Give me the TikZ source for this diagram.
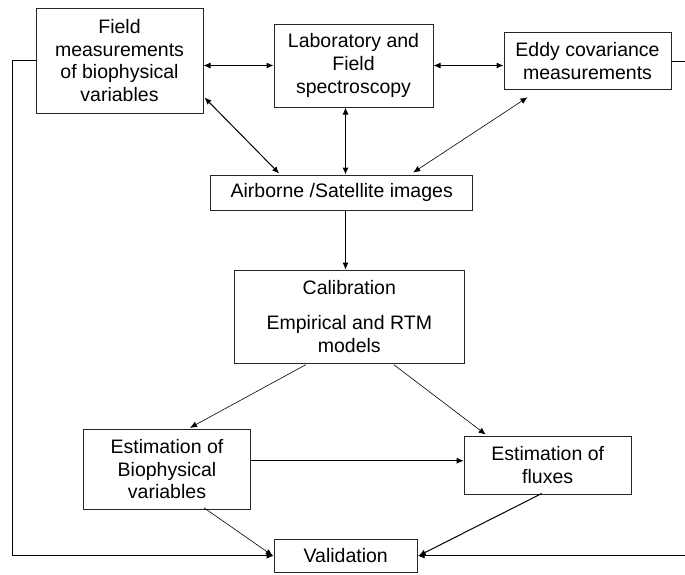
\documentclass[tikz,border=0pt]{standalone}
\usepackage{fontspec}
\setmainfont{Liberation Sans}
\usetikzlibrary{arrows.meta,calc}

\begin{document}
\begin{tikzpicture}[x=1pt,y=-1pt]
        \tikzstyle{every node}=[font=\fontsize{19.5pt}{22.7pt}\selectfont]
        \tikzstyle{box}=[draw=black!85, line width=1pt, align=center, inner sep=0pt]
        \tikzstyle{link}=[line width=1pt, -{Latex[length=7pt,width=6pt]}]
        \tikzstyle{both}=[line width=1pt, {Latex[length=7pt,width=6pt]}-{Latex[length=7pt,width=6pt]}]
        \tikzstyle{thin}=[line width=0.6pt]

        \clip (0,0) rectangle (685,574);

        \node (field)  [box, minimum width=167pt, minimum height=105pt] at (119.5,60.5) {Field\\measurements\\of biophysical\\variables};
        \node (lab)    [box, minimum width=159pt, minimum height=83pt]  at (353.5,65.5) {Laboratory and\\Field\\spectroscopy};
        \node (eddy)   [box, minimum width=167pt, minimum height=57pt]  at (587.5,61.3) {Eddy covariance\\measurements};
        \node (images) [box, minimum width=262pt, minimum height=35pt]  at (341.7,192.5) {Airborne /Satellite images};
        \node (calib)  [box, minimum width=230pt, minimum height=93pt]  at (349.3,316.7) {Calibration\\[12pt]Empirical and RTM\\models};
        \node (estbio) [box, minimum width=167pt, minimum height=80pt]  at (167,469.3) {Estimation of\\Biophysical\\variables};
        \node (estflx) [box, minimum width=167pt, minimum height=58pt]  at (547.7,465) {Estimation of\\fluxes};
        \node (valid)  [box, minimum width=143pt, minimum height=33pt]  at (345.7,555.7) {Validation};

        \coordinate (leftx)  at (12,0);
        \coordinate (rightx) at (700,0);
        \coordinate (midx)   at (345.5,0);

        \draw[both] (field.east |- lab.west) -- (lab.west);
        \draw[both] (lab.east) -- (lab.east -| eddy.west);
        \draw[both] ($(field.south east)+(1,-16)$) -- ($(images.north west)+(69,-1)$);
        \draw[both] (lab.south -| midx) -- (images.north -| midx);
        \draw[both, thin] ($(images.north east)+(-60,-2)$) -- ($(eddy.south west)+(24,7)$);

        \draw[link] (images.south -| midx) -- (calib.north -| midx);
        \draw[link, thin] ($(calib.south west)+(72,1)$) -- ($(estbio.north west)+(107,-1)$);
        \draw[link, thin] ($(calib.south east)+(-71,1)$) -- ($(estflx.north west)+(22,-1)$);
        \draw[link] ($(estbio.east)+(0,-8.6)$) -- ($(estflx.west)+(0,-4.3)$);
        \draw[link, thin] ($(estbio.south west)+(121,-2)$) -- ($(valid.west)+(-1,0)$);
        \draw[link] ($(estflx.south west)+(78,-1)$) -- ($(valid.east)+(1,0)$);

        \draw[link] (field.west) -- (field.west -| leftx) -- (valid.west -| leftx) -- (valid.west);
        \draw[link] (eddy.east) -- (eddy.east -| rightx) -- (valid.east -| rightx) -- (valid.east);
    \end{tikzpicture}
\end{document}
